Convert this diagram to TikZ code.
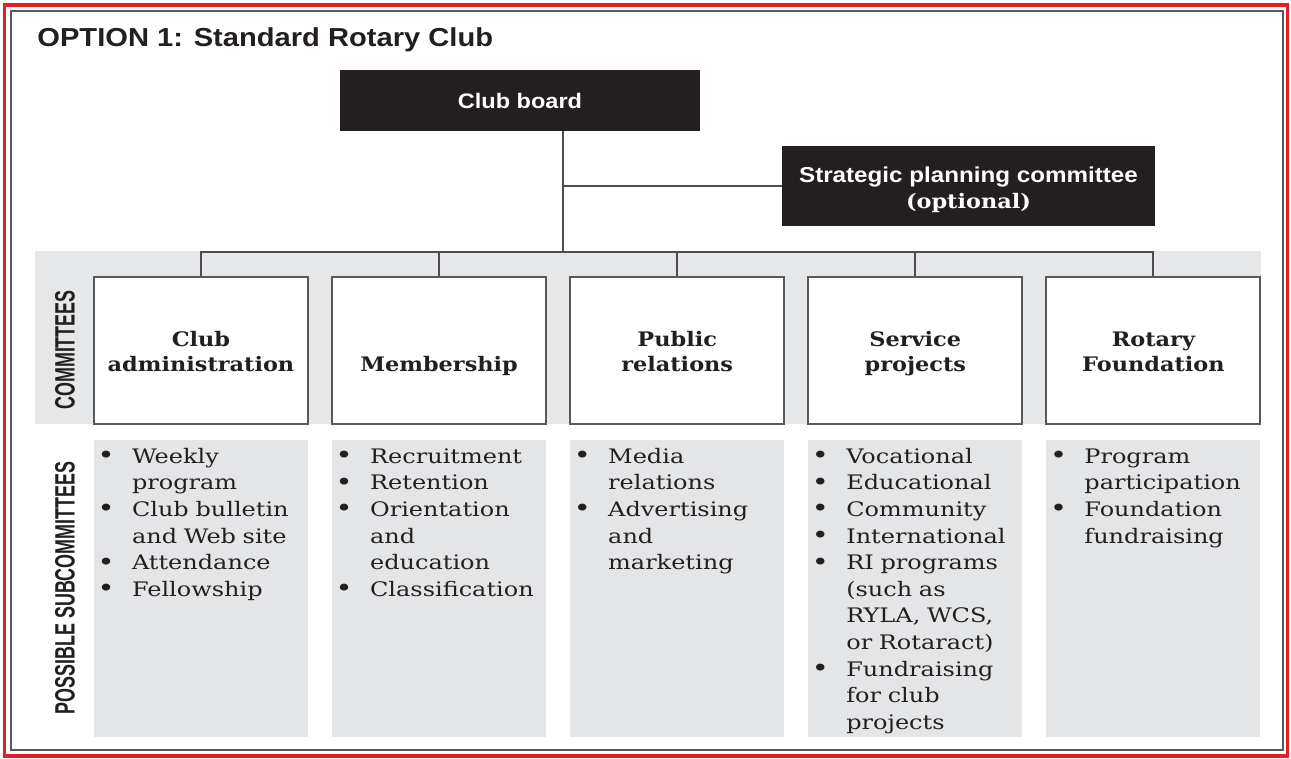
\documentclass[tikz,border=0pt]{standalone}
\usepackage{fontspec}
\setmainfont[FakeStretch=1.12]{DejaVu Serif}
\newfontfamily\subfam[FakeStretch=1.2]{DejaVu Serif}
\newfontfamily\hsans[FakeStretch=1.12]{Liberation Sans}
\newfontfamily\labelfam[FakeStretch=0.64]{Liberation Sans}
\definecolor{ink}{HTML}{231F20}
\definecolor{boxblack}{HTML}{231F20}
\definecolor{linegray}{HTML}{4D4D4F}
\definecolor{bordergray}{HTML}{58595B}
\definecolor{bandgray}{HTML}{E6E7E8}
\definecolor{subgray}{HTML}{E4E5E7}
\definecolor{redline}{HTML}{E31E24}
\newcommand\mytitlefont{\hsans\bfseries\fontsize{13}{15}\selectfont}
\newcommand\myboardfont{\hsans\bfseries\fontsize{10.5}{13}\selectfont}
\newcommand\mycomfont{\bfseries\fontsize{10}{12.5}\selectfont}
\newcommand\mysubfont{\subfam\fontsize{10}{13.3}\selectfont\lineskiplimit=0pt\lineskip=0pt}
\newcommand\mylabelfont{\labelfam\bfseries\fontsize{14}{14}\selectfont}
\newcommand\firstline{\rule{0pt}{12.3pt}}
\newcommand\bitem[1]{\noindent\makebox[19pt][l]{\hspace{1.8pt}\raisebox{-0.2pt}{\scalebox{1.2}{\textbullet}}}\parbox[t]{85pt}{\strut#1\strut}\par}
\begin{document}
\begin{tikzpicture}[x=0.5pt,y=-0.5pt,
  conn/.style={draw=linegray,line width=1pt},
  blackbox/.style={fill=boxblack,draw=none,text=white,inner sep=0pt,align=center},
  cbox/.style={draw=bordergray,line width=1pt,fill=white,minimum width=107pt,minimum height=73.5pt,inner sep=0pt,align=center,text=ink,font=\mycomfont},
  sbox/.style={fill=subgray,draw=none,minimum width=107pt,minimum height=148.5pt,inner sep=0pt},
  stext/.style={anchor=north west,inner sep=0pt,text width=104pt,text=ink,font=\mysubfont},
  vlabel/.style={rotate=90,text=ink,font=\mylabelfont,inner sep=0pt}
]
\useasboundingbox (0,0) rectangle (1291,759);
\fill[white] (0,0) rectangle (1291,759);
% frames
\draw[redline,line width=1.6pt] (4.5,5) rectangle (1287.5,756);
\draw[bordergray,line width=1pt] (11,11.5) rectangle (1283,750);
% title
\node[anchor=base west,inner sep=0pt,text=ink,font=\mytitlefont] (title) at (37,47) {OPTION 1: Standard Rotary Club};
% committee band
\fill[bandgray] (35,251) rectangle (1261,424);
\node[vlabel] (lcom) at (65,350) {COMMITTEES};
\node[vlabel] (lsub) at (65,588) {POSSIBLE SUBCOMMITTEES};
% top boxes
\node[blackbox,minimum width=180pt,minimum height=30.5pt,font=\myboardfont] (board) at (520,100.5) {Club board};
\node[blackbox,minimum width=186.5pt,minimum height=40pt,font={\fontsize{10.8}{13}\selectfont}] (strat) at (968.5,186)
  {{\hsans\bfseries\rule{0pt}{12pt}Strategic planning committee}\\{\bfseries\fontsize{10}{13}\selectfont (optional)}};
% committee boxes
\node[cbox] (c1) at (201,350.5) {\firstline Club\\administration\strut};
\node[cbox] (c2) at (439.1,350.5) {\firstline\\Membership\strut};
\node[cbox] (c3) at (677.2,350.5) {\firstline Public\\relations\strut};
\node[cbox] (c4) at (915.3,350.5) {\firstline Service\\projects\strut};
\node[cbox] (c5) at (1153.4,350.5) {\firstline Rotary\\Foundation\strut};
% connectors
\coordinate (trunk) at (563,252);
\draw[conn] (board.south -| trunk) -- (trunk);
\draw[conn] (strat.west) -- (strat.west -| trunk);
\draw[conn] (c1.north) |- (trunk) -| (c5.north);
\foreach \c in {c2,c3,c4} \draw[conn] (\c.north) -- (\c.north |- trunk);
% subcommittee boxes
\node[sbox] (s1) at (201,588.5) {};
\node[sbox] (s2) at (439.1,588.5) {};
\node[sbox] (s3) at (677.2,588.5) {};
\node[sbox] (s4) at (915.3,588.5) {};
\node[sbox] (s5) at (1153.4,588.5) {};
\node[stext] (t1) at ([yshift=-2.3pt]s1.north west) {%
  \bitem{Weekly\\program}\bitem{Club bulletin\\and Web site}\bitem{Attendance}\bitem{Fellowship}};
\node[stext] (t2) at ([yshift=-2.3pt]s2.north west) {%
  \bitem{Recruitment}\bitem{Retention}\bitem{Orientation\\and\\education}\bitem{Classification}};
\node[stext] (t3) at ([yshift=-2.3pt]s3.north west) {%
  \bitem{Media\\relations}\bitem{Advertising\\and\\marketing}};
\node[stext] (t4) at ([yshift=-2.3pt]s4.north west) {%
  \bitem{Vocational}\bitem{Educational}\bitem{Community}\bitem{International}%
  \bitem{RI programs\\(such as\\RYLA, WCS,\\or Rotaract)}\bitem{Fundraising\\for club\\projects}};
\node[stext] (t5) at ([yshift=-2.3pt]s5.north west) {%
  \bitem{Program\\participation}\bitem{Foundation\\fundraising}};
\end{tikzpicture}
\end{document}
